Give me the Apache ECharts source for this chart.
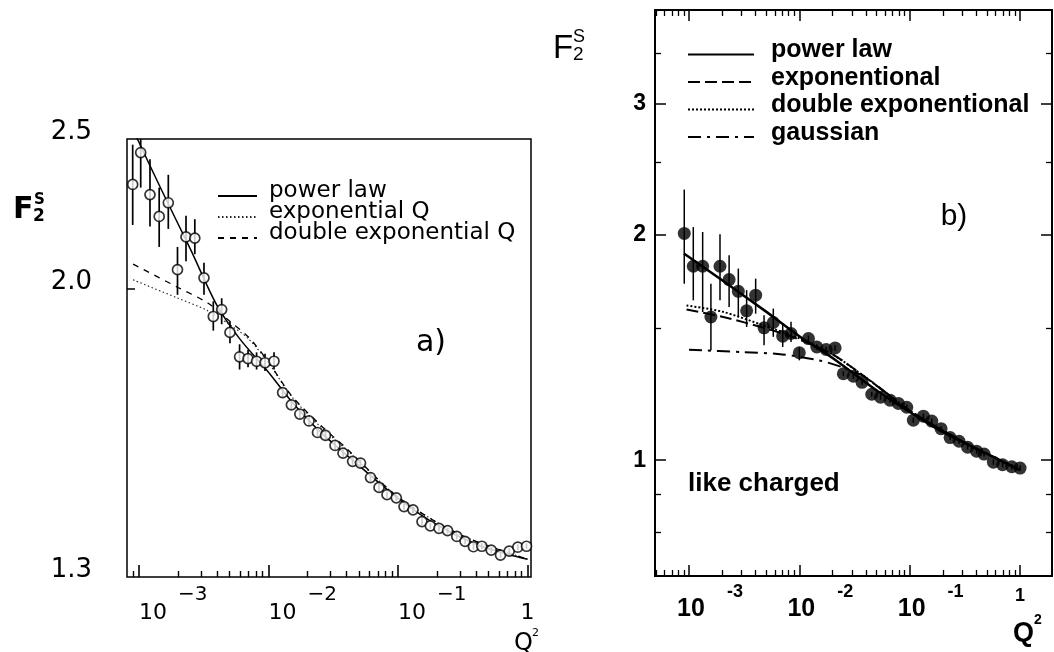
<!DOCTYPE html>
<html><head><meta charset="utf-8">
<script src="https://cdn.jsdelivr.net/npm/echarts@6/dist/echarts.min.js"></script>
<style>html,body{margin:0;padding:0;background:#fff}#c{width:1054px;height:652px}</style>
</head><body><div id="c"></div>
<script>
// ---------- panel a) data (open circles) ----------
const aX = [8.94e-4, 1.031e-3, 1.216e-3, 1.432e-3, 1.684e-3, 1.983e-3, 2.307e-3, 2.698e-3, 3.176e-3, 3.748e-3, 4.35e-3, 5.04e-3, 5.98e-3, 6.95e-3, 8.09e-3, 9.40e-3, 1.103e-2, 1.285e-2, 1.502e-2, 1.745e-2, 2.055e-2, 2.39e-2, 2.755e-2, 3.263e-2, 3.761e-2, 4.461e-2, 5.134e-2, 6.132e-2, 7.134e-2, 8.225e-2, 9.703e-2, 0.1113, 0.1306, 0.1532, 0.1779, 0.2073, 0.2415, 0.2844, 0.3292, 0.3822, 0.4437, 0.5245, 0.6187, 0.7224, 0.8416, 0.9824];
const aY = [2.336, 2.450, 2.301, 2.227, 2.273, 2.057, 2.160, 2.156, 2.032, 1.918, 1.938, 1.873, 1.806, 1.801, 1.794, 1.790, 1.794, 1.712, 1.681, 1.658, 1.641, 1.613, 1.606, 1.582, 1.564, 1.545, 1.541, 1.508, 1.486, 1.470, 1.463, 1.444, 1.437, 1.412, 1.403, 1.398, 1.393, 1.381, 1.371, 1.360, 1.361, 1.353, 1.343, 1.351, 1.359, 1.361];
const aLow = [2.199, 2.325, 2.194, 2.128, 2.186, 1.981, 2.083, 2.105, 1.981, 1.878, 1.896, 1.843, 1.772, 1.778, 1.772, 1.768, 1.772, 1.700, 1.670, 1.648, 1.631, 1.603, 1.596, 1.573, 1.555, 1.537, 1.533, 1.500, 1.478, 1.463, 1.456, 1.437, 1.430, 1.405, 1.397, 1.392, 1.387, 1.375, 1.365, 1.354, 1.355, 1.347, 1.337, 1.345, 1.353, 1.355];
const aHigh = [2.479, 2.56, 2.426, 2.325, 2.370, 2.128, 2.229, 2.218, 2.078, 1.962, 1.971, 1.903, 1.840, 1.825, 1.818, 1.814, 1.818, 1.724, 1.692, 1.668, 1.651, 1.623, 1.616, 1.591, 1.573, 1.553, 1.549, 1.516, 1.494, 1.477, 1.470, 1.451, 1.444, 1.419, 1.409, 1.404, 1.399, 1.387, 1.377, 1.366, 1.367, 1.359, 1.349, 1.357, 1.365, 1.367];

// panel a) fit curves
const aPowX = [9.0e-4, 1.5e-3, 2.5e-3, 4e-3, 6e-3, 1e-2, 1.5e-2, 2.5e-2, 5e-2, 0.1, 0.2, 0.4, 0.7, 1.0];
const aPowY = [2.535, 2.315, 2.12, 1.95, 1.855, 1.765, 1.69, 1.615, 1.535, 1.462, 1.405, 1.365, 1.345, 1.335];
const aExpX = [9e-4, 2e-3, 3.3e-3, 5e-3, 7e-3, 1e-2, 1.5e-2, 2.5e-2, 4e-2, 0.1, 0.3, 1.0];
const aExpY = [2.026, 1.971, 1.937, 1.895, 1.855, 1.79, 1.703, 1.628, 1.572, 1.465, 1.385, 1.335];
const aDExpX = [9e-4, 2e-3, 3.4e-3, 5e-3, 7e-3, 1e-2, 1.5e-2, 2.5e-2, 4e-2, 0.1, 0.3, 1.0];
const aDExpY = [2.074, 2.003, 1.957, 1.905, 1.86, 1.792, 1.705, 1.632, 1.575, 1.465, 1.385, 1.335];

// ---------- panel b) data (filled circles) ----------
const bX = [9.06e-4, 1.094e-3, 1.33e-3, 1.58e-3, 1.91e-3, 2.31e-3, 2.80e-3, 3.33e-3, 4.02e-3, 4.79e-3, 5.81e-3, 7.07e-3, 8.41e-3, 1.0e-2, 1.21e-2, 1.44e-2, 1.75e-2, 2.11e-2, 0.02506, 0.03088, 0.03703, 0.04533, 0.05448, 0.06644, 0.0790, 0.0941, 0.1080, 0.1331, 0.1586, 0.1926, 0.2325, 0.2805, 0.335, 0.4042, 0.4727, 0.5740, 0.6955, 0.8428, 1.002];
const bY = [2.01, 1.817, 1.817, 1.554, 1.817, 1.744, 1.682, 1.584, 1.662, 1.503, 1.528, 1.465, 1.477, 1.392, 1.454, 1.417, 1.406, 1.413, 1.305, 1.295, 1.271, 1.225, 1.214, 1.203, 1.191, 1.177, 1.131, 1.145, 1.128, 1.102, 1.072, 1.060, 1.041, 1.028, 1.019, 0.994, 0.986, 0.980, 0.976];
const bLow = [1.722, 1.636, 1.578, 1.403, 1.636, 1.603, 1.554, 1.507, 1.570, 1.425, 1.462, 1.417, 1.439, 1.360, 1.440, 1.405, 1.394, 1.401, 1.295, 1.285, 1.261, 1.216, 1.205, 1.194, 1.182, 1.168, 1.122, 1.136, 1.119, 1.094, 1.064, 1.052, 1.033, 1.020, 1.011, 0.986, 0.978, 0.972, 0.968];
const bHigh = [2.301, 2.05, 2.019, 1.722, 2.005, 1.879, 1.804, 1.688, 1.749, 1.562, 1.595, 1.525, 1.531, 1.417, 1.468, 1.429, 1.418, 1.425, 1.315, 1.305, 1.281, 1.234, 1.223, 1.212, 1.200, 1.186, 1.140, 1.154, 1.137, 1.110, 1.080, 1.068, 1.049, 1.036, 1.027, 1.002, 0.994, 0.988, 0.984];

// panel b) fit curves
const bPowX = [9.0e-4, 2e-3, 5e-3, 1e-2, 2e-2, 5e-2, 0.1, 0.2, 0.5, 1.0];
const bPowY = [1.89, 1.74, 1.58, 1.465, 1.37, 1.24, 1.16, 1.09, 1.02, 0.97];
const bExpX = [9.5e-4, 2e-3, 5e-3, 1e-2, 2e-2, 4e-2, 0.1, 0.3, 1.0];
const bExpY = [1.59, 1.555, 1.50, 1.45, 1.385, 1.29, 1.165, 1.06, 0.97];
const bDExpX = [9.5e-4, 2e-3, 5e-3, 1e-2, 2e-2, 4e-2, 0.1, 0.3, 1.0];
const bDExpY = [1.61, 1.58, 1.51, 1.455, 1.385, 1.29, 1.165, 1.06, 0.97];
const bGausX = [1.0e-3, 3e-3, 7e-3, 1.5e-2, 2.5e-2, 4e-2, 0.1, 0.3, 1.0];
const bGausY = [1.405, 1.395, 1.385, 1.36, 1.33, 1.29, 1.165, 1.06, 0.97];

// ---------- ticks ----------
const xMajorTicks = [0.001, 0.01, 0.1, 1];
const aXTickLabels = [0.001, 0.01, 0.1];
const aXUnitLabel = [1];
const bXTickLabels = [0.001, 0.01, 0.1, 1];
const aYTickLabels = [1.3, 2.0, 2.5];
const aYTicks = [2.0];
const bYTickLabels = [1, 2, 3];
const bYMinorTicks = [0.8, 0.9, 1.5, 2.5, 3.5];

const A_XMIN = 8.08e-4, A_XMAX = 1.064, A_YMIN = 1.2999, A_YMAX = 2.5001;
const B_XMIN = 4.92e-4, B_XMAX = 1.95, B_YMIN = 0.7, B_YMAX = 4.0;

function minorTicks(lo, hi) {
  const out = [];
  for (let e = -4; e <= 0; e++) for (let m = 2; m <= 9; m++) {
    const v = +(m * Math.pow(10, e)).toPrecision(6);
    if (v > lo && v < hi) out.push(v);
  }
  return out;
}
const zip = (xs, ys) => xs.map((x, i) => [x, ys[i]]);
const zip3 = (xs, lo, hi) => xs.map((x, i) => [x, lo[i], hi[i]]);

const baseAxis = (extra) => Object.assign({
  type: 'log', logBase: 10,
  axisLine: {show: false, onZero: false},
  splitLine: {show: false},
  axisLabel: {show: false},
  axisTick: {show: false},
  minorTick: {show: false}
}, extra);
const ticks = (vals, len, w) => ({show: true, inside: true, length: len, customValues: vals, lineStyle: {color: '#000', width: w}});

const LF = '"DejaVu Sans"', RF = '"Liberation Sans"';
const expOf = v => Math.round(Math.log10(v));

const aLabel = {
  show: true, customValues: aXTickLabels, margin: 25, color: '#000', align: 'left',
  formatter: v => '{b|10}{e|\u2212' + (-expOf(v)) + '}',
  rich: {
    b: {fontFamily: 'DejaVu Sans', fontSize: 22, lineHeight: 22, color: '#000'},
    e: {fontFamily: 'DejaVu Sans', fontSize: 20, lineHeight: 20, padding: [0, 0, 36, 11], color: '#000'}
  }
};
const aUnitLabel = {
  show: true, customValues: aXUnitLabel, margin: 25, color: '#000', align: 'center',
  fontFamily: 'DejaVu Sans', fontSize: 22, lineHeight: 22, formatter: () => '1'
};
const bLabel = {
  show: true, customValues: bXTickLabels, margin: 21, color: '#000',
  formatter: v => { const e = expOf(v); return e === 0 ? '{one|1}' : '{b|10}{e|-' + (-e) + '}'; },
  rich: {
    b: {fontFamily: 'Liberation Sans', fontWeight: 'bold', fontSize: 25, lineHeight: 25, padding: [0, 0, 0, 42], color: '#000'},
    e: {fontFamily: 'Liberation Sans', fontWeight: 'bold', fontSize: 18, lineHeight: 18, padding: [0, 0, 34, 22], color: '#000'},
    one: {fontFamily: 'Liberation Sans', fontWeight: 'bold', fontSize: 18, lineHeight: 18, padding: [0, 0, 20, 0], color: '#000'}
  }
};

const errRender = (w) => (params, api) => {
  const p1 = api.coord([api.value(0), api.value(1)]);
  const p2 = api.coord([api.value(0), api.value(2)]);
  return {type: 'line', shape: {x1: p1[0], y1: p1[1], x2: p2[0], y2: p2[1]}, style: {stroke: '#000', lineWidth: w}};
};

const lineS = (name, xi, yi, data, width, type, color) => ({
  name, type: 'line', xAxisIndex: xi, yAxisIndex: yi, data, symbol: 'none', showSymbol: false,
  smooth: 0.3, z: 3, lineStyle: {color: color || '#000', width, type}, itemStyle: {color: color || '#000'}
});

const option = {
  animation: false,
  backgroundColor: '#fff',
  textStyle: {fontFamily: 'DejaVu Sans', color: '#000'},
  grid: [
    {left: 127, top: 139, width: 404, height: 438, show: true, borderColor: '#000', borderWidth: 1.5},
    {left: 655, top: 10, width: 397, height: 566, show: true, borderColor: '#000', borderWidth: 2}
  ],
  xAxis: [
    baseAxis({gridIndex: 0, position: 'bottom', min: A_XMIN, max: A_XMAX, axisTick: ticks(xMajorTicks, 12, 1.6), axisLabel: aLabel}),
    baseAxis({gridIndex: 0, position: 'bottom', min: A_XMIN, max: A_XMAX, axisTick: ticks(minorTicks(A_XMIN, A_XMAX), 6, 1.4), axisLabel: aUnitLabel}),
    baseAxis({gridIndex: 1, position: 'bottom', min: B_XMIN, max: B_XMAX, axisTick: ticks(xMajorTicks, 11, 1.5), axisLabel: bLabel}),
    baseAxis({gridIndex: 1, position: 'bottom', min: B_XMIN, max: B_XMAX, axisTick: ticks(minorTicks(B_XMIN, B_XMAX), 6, 1.3)}),
    baseAxis({gridIndex: 1, position: 'top', min: B_XMIN, max: B_XMAX, axisTick: ticks(xMajorTicks, 11, 1.5)}),
    baseAxis({gridIndex: 1, position: 'top', min: B_XMIN, max: B_XMAX, axisTick: ticks(minorTicks(B_XMIN, B_XMAX), 6, 1.3)})
  ],
  yAxis: [
    baseAxis({gridIndex: 0, position: 'left', min: A_YMIN, max: A_YMAX, axisTick: ticks(aYTicks, 8, 1.5),
      axisLabel: {show: true, customValues: aYTickLabels, margin: 35, verticalAlign: 'bottom', lineHeight: 13, fontFamily: 'DejaVu Sans', fontSize: 26, color: '#000', formatter: v => v.toFixed(1)}}),
    baseAxis({gridIndex: 1, position: 'left', min: B_YMIN, max: B_YMAX, axisTick: ticks(bYTickLabels, 11, 1.5),
      axisLabel: {show: true, customValues: bYTickLabels, margin: 9, fontFamily: 'Liberation Sans', fontWeight: 'bold', fontSize: 23, color: '#000', formatter: v => String(Math.round(v))}}),
    baseAxis({gridIndex: 1, position: 'left', min: B_YMIN, max: B_YMAX, axisTick: ticks(bYMinorTicks, 6, 1.3)}),
    baseAxis({gridIndex: 1, position: 'right', min: B_YMIN, max: B_YMAX, axisTick: ticks(bYTickLabels, 11, 1.5)}),
    baseAxis({gridIndex: 1, position: 'right', min: B_YMIN, max: B_YMAX, axisTick: ticks(bYMinorTicks, 6, 1.3)})
  ],
  legend: [
    {left: 217, top: 179.5, orient: 'vertical', padding: 0, itemGap: -5, itemWidth: 39, itemHeight: 14, selectedMode: false,
      itemStyle: {opacity: 0},
      data: ['power law', 'exponential Q', 'double exponential Q'],
      formatter: n => '{t|' + n + '}\n{s| }',
      textStyle: {fontFamily: 'DejaVu Sans', fontSize: 23, color: '#000', padding: [0, 0, 0, 7],
        rich: {t: {fontFamily: 'DejaVu Sans', fontSize: 23, lineHeight: 11, color: '#000'}, s: {fontSize: 8, lineHeight: 10}}}},
    {left: 687, top: 38, orient: 'vertical', padding: 0, itemGap: -2, itemWidth: 66, itemHeight: 14, selectedMode: false,
      itemStyle: {opacity: 0},
      data: ['power law ', 'exponentional', 'double exponentional', 'gaussian'],
      formatter: n => '{t|' + n + '}\n{s| }',
      textStyle: {fontFamily: 'Liberation Sans', fontWeight: 'bold', fontSize: 25, color: '#000', padding: [0, 0, 0, 12],
        rich: {t: {fontFamily: 'Liberation Sans', fontWeight: 'bold', fontSize: 25, lineHeight: 18, color: '#000'}, s: {fontSize: 8, lineHeight: 8}}}}
  ],
  graphic: [
    {type: 'text', x: 13, y: 210, style: {text: 'F', font: 'bold 30px ' + LF, fill: '#000', verticalAlign: 'middle', textVerticalAlign: 'middle'}},
    {type: 'text', x: 34, y: 200, style: {text: 'S', font: 'bold 15px ' + LF, fill: '#000', verticalAlign: 'middle', textVerticalAlign: 'middle'}},
    {type: 'text', x: 33, y: 217, style: {text: '2', font: 'bold 17px ' + LF, fill: '#000', verticalAlign: 'middle', textVerticalAlign: 'middle'}},
    {type: 'text', x: 431, y: 343, style: {text: 'a)', font: '30px ' + LF, fill: '#000', align: 'center', textAlign: 'center', verticalAlign: 'middle', textVerticalAlign: 'middle'}},
    {type: 'text', x: 514, y: 644, style: {text: 'Q', font: '24px ' + LF, fill: '#000', verticalAlign: 'middle', textVerticalAlign: 'middle'}},
    {type: 'text', x: 532, y: 633, style: {text: '2', font: '11px ' + LF, fill: '#000', verticalAlign: 'middle', textVerticalAlign: 'middle'}},
    {type: 'text', x: 553, y: 49, style: {text: 'F', font: '33px ' + RF, fill: '#000', verticalAlign: 'middle', textVerticalAlign: 'middle'}},
    {type: 'text', x: 573, y: 37, style: {text: 'S', font: '18px ' + RF, fill: '#000', verticalAlign: 'middle', textVerticalAlign: 'middle'}},
    {type: 'text', x: 573, y: 55, style: {text: '2', font: '19px ' + RF, fill: '#000', verticalAlign: 'middle', textVerticalAlign: 'middle'}},
    {type: 'text', x: 954, y: 217, style: {text: 'b)', font: '30px ' + RF, fill: '#000', align: 'center', textAlign: 'center', verticalAlign: 'middle', textVerticalAlign: 'middle'}},
    {type: 'text', x: 688, y: 484, style: {text: 'like charged', font: 'bold 26px ' + RF, fill: '#000', verticalAlign: 'middle', textVerticalAlign: 'middle'}},
    {type: 'text', x: 1013, y: 634, style: {text: 'Q', font: 'bold 27px ' + RF, fill: '#000', verticalAlign: 'middle', textVerticalAlign: 'middle'}},
    {type: 'text', x: 1034, y: 620, style: {text: '2', font: 'bold 14px ' + RF, fill: '#000', verticalAlign: 'middle', textVerticalAlign: 'middle'}}
  ],
  series: [
    {type: 'custom', name: 'errA', xAxisIndex: 0, yAxisIndex: 0, data: zip3(aX, aLow, aHigh), encode: {x: 0, y: [1, 2]}, renderItem: errRender(1.7), clip: true, z: 2},
    lineS('power law', 0, 0, zip(aPowX, aPowY), 1.5, 'solid'),
    lineS('exponential Q', 0, 0, zip(aExpX, aExpY), 1.1, [1.5, 2.5], '#222'),
    lineS('double exponential Q', 0, 0, zip(aDExpX, aDExpY), 1.3, [6, 6]),
    {type: 'scatter', name: 'dataA', xAxisIndex: 0, yAxisIndex: 0, data: zip(aX, aY), symbol: 'circle', symbolSize: 10,
      itemStyle: {color: '#fff', borderColor: '#000', borderWidth: 1.7}, z: 4},
    {type: 'custom', name: 'errB', xAxisIndex: 2, yAxisIndex: 1, data: zip3(bX, bLow, bHigh), encode: {x: 0, y: [1, 2]}, renderItem: errRender(1.5), clip: true, z: 2},
    lineS('power law ', 2, 1, zip(bPowX, bPowY), 2.5, 'solid'),
    lineS('exponentional', 2, 1, zip(bExpX, bExpY), 2, [12, 5]),
    lineS('double exponentional', 2, 1, zip(bDExpX, bDExpY), 2, [2, 2]),
    lineS('gaussian', 2, 1, zip(bGausX, bGausY), 2, [13, 6, 3, 6]),
    {type: 'scatter', name: 'dataB', xAxisIndex: 2, yAxisIndex: 1, data: zip(bX, bY), symbol: 'circle', symbolSize: 13,
      itemStyle: {color: '#000'}, z: 4}
  ]
};
const chart = echarts.init(document.getElementById('c'), null, {renderer: 'canvas'});
chart.setOption(option);
</script>
</body></html>
